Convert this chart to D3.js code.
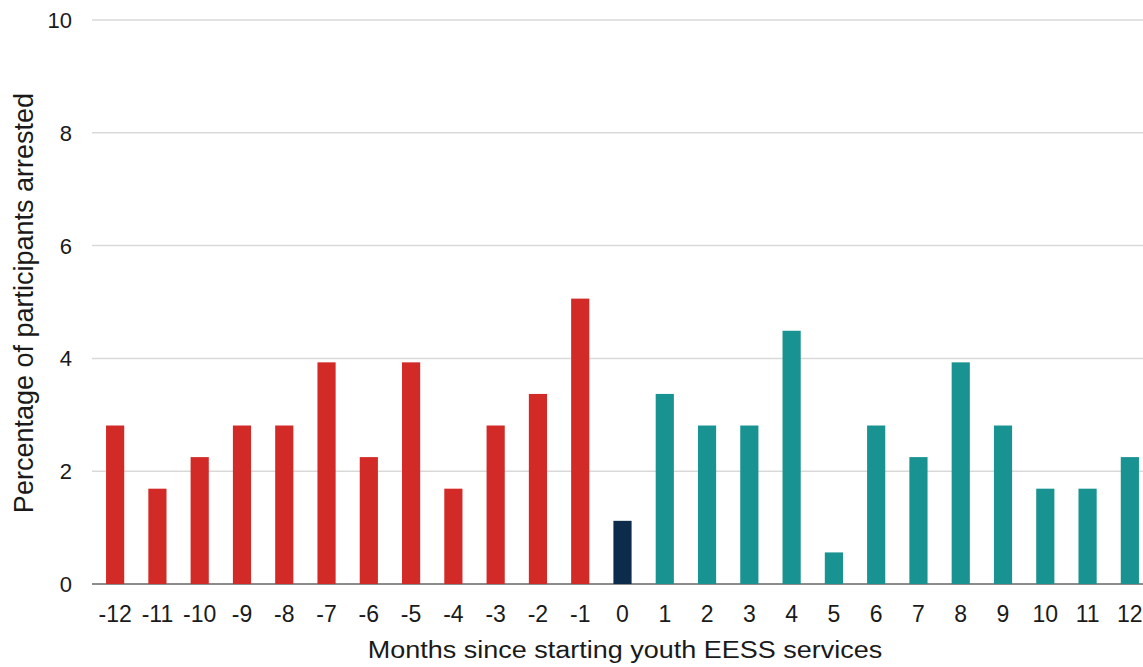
<!DOCTYPE html>
<html>
<head>
<meta charset="utf-8">
<script src="https://cdn.jsdelivr.net/npm/d3@7"></script>
<style>
  body { margin: 0; background: #fff; }
  text { font-family: "Liberation Sans", Arial, sans-serif; fill: #1a1a1a; }
</style>
</head>
<body>
<div id="chart"></div>
<script>
var months = ["-12","-11","-10","-9","-8","-7","-6","-5","-4","-3","-2","-1","0",
              "1","2","3","4","5","6","7","8","9","10","11","12"];
var arrested = [2.81,1.69,2.25,2.81,2.81,3.93,2.25,3.93,1.69,2.81,3.37,5.06,1.12,
                3.37,2.81,2.81,4.49,0.56,2.81,2.25,3.93,2.81,1.69,1.69,2.25];
var yTicks = [0,2,4,6,8,10];

var W = 1143, H = 667;
var svg = d3.select("#chart").append("svg")
    .attr("width", W).attr("height", H);

var x = d3.scaleBand().domain(months).range([94, 1151]).paddingInner(0.57).paddingOuter(0.285);
var y = d3.scaleLinear().domain([0, 10]).range([584, 20]);

function barColor(m){
  var v = +m;
  return v < 0 ? "#d22b27" : v === 0 ? "#0d2b4a" : "#189391";
}

// gridlines
svg.append("g").selectAll("line")
  .data(yTicks.filter(function(d){ return d > 0; }))
  .enter().append("line")
  .attr("x1", 92).attr("x2", W)
  .attr("y1", function(d){ return y(d); })
  .attr("y2", function(d){ return y(d); })
  .attr("stroke", "#d9d9d9").attr("stroke-width", 1.5);

// y tick labels
svg.append("g").selectAll("text")
  .data(yTicks).enter().append("text")
  .attr("x", 72)
  .attr("y", function(d){ return y(d) + 8; })
  .attr("text-anchor", "end")
  .style("font-size", "22px")
  .text(function(d){ return d; });

// baseline
svg.append("line")
  .attr("x1", 92).attr("x2", W)
  .attr("y1", y(0)).attr("y2", y(0))
  .attr("stroke", "#8c8c8c").attr("stroke-width", 2);

// bars
svg.append("g").selectAll("rect")
  .data(months).enter().append("rect")
  .attr("x", function(d){ return x(d); })
  .attr("width", x.bandwidth())
  .attr("y", function(d,i){ return y(arrested[i]); })
  .attr("height", function(d,i){ return y(0) - y(arrested[i]); })
  .attr("fill", barColor);

// x tick labels
svg.append("g").selectAll("text")
  .data(months).enter().append("text")
  .attr("x", function(d){ return x(d) + x.bandwidth()/2; })
  .attr("y", 622)
  .attr("text-anchor", "middle")
  .style("font-size", "23px")
  .text(function(d){ return d; });

// axis titles
svg.append("text")
  .attr("transform", "translate(625,658) scale(1,0.86)")
  .attr("text-anchor", "middle")
  .style("font-size", "27px")
  .text("Months since starting youth EESS services");

svg.append("text")
  .attr("transform", "translate(33,303) rotate(-90)")
  .attr("text-anchor", "middle")
  .style("font-size", "27px")
  .text("Percentage of participants arrested");
</script>
</body>
</html>
